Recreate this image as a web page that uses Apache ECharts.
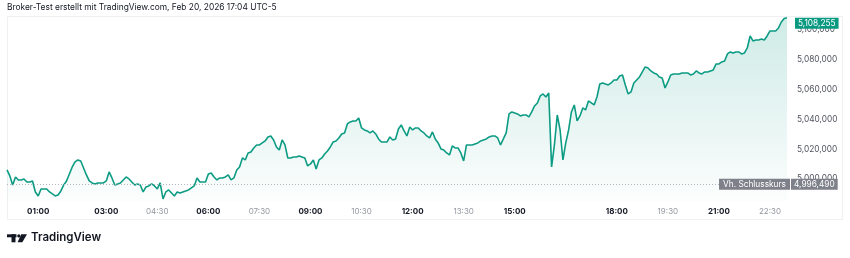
<!DOCTYPE html>
<html><head><meta charset="utf-8">
<script src="https://cdn.jsdelivr.net/npm/echarts@6/dist/echarts.min.js"></script>
<style>html,body{margin:0;padding:0;background:#fff;}#c{width:850px;height:258px;}</style>
</head><body><div id="c"></div>
<script>
const titleText = 'Broker-Test erstellt mit TradingView.com, Feb 20, 2026 17:04 UTC-5';
const brandText = 'TradingView';
const prevCloseLabel = 'Vh. Schlusskurs';
const startMinute = 5, stepMinutes = 5;
const prevClose = 4996490;
const prices = [
5006040,5002010,4995970,5001340,4999330,4999330,5000000,4997990,4997990,4998660,4991280,4988590,
4993290,4993290,4993290,4991280,4989930,4988590,4989260,4991950,4995970,4998660,5003360,5008050,
5011410,5012750,5012080,5007380,5002680,4998660,4997320,4996640,4997320,4997320,4997320,4998660,
5004700,5000670,4995970,4996640,4997320,4999330,5001340,5000000,4997990,4995970,4996640,4995970,
4991280,4994630,4995300,4996640,4995300,4993290,4997320,4986580,4991280,4992620,4990600,4988590,
4991280,4990600,4991280,4991950,4992620,4993960,4995300,5000670,4997990,4997990,4997990,5003360,
5004030,5001340,4999330,5000670,5000670,5001340,5002680,4999330,5000670,5006040,5008050,5014090,
5012750,5017450,5018120,5020800,5022820,5022820,5024160,5025500,5028190,5028860,5026170,5021480,
5019460,5026170,5022820,5014090,5014090,5014760,5014760,5015440,5014760,5014090,5008720,5010070,
5012750,5006710,5012750,5014090,5016780,5018790,5021480,5024830,5025500,5027520,5030200,5030870,
5036910,5038250,5038920,5038920,5040940,5034230,5032880,5032210,5030870,5032210,5030200,5026840,
5024830,5024830,5024830,5028190,5026170,5026840,5033560,5036240,5032210,5028860,5034900,5032880,
5034230,5034230,5032210,5030870,5028860,5027520,5031540,5026840,5024160,5020130,5019460,5017450,
5016110,5022150,5020800,5020800,5017450,5012080,5022820,5022820,5022820,5023490,5024160,5025500,
5026170,5026840,5028190,5028860,5028860,5027520,5022820,5026840,5030870,5043620,5044960,5044290,
5043620,5042280,5042950,5042950,5041610,5044960,5048990,5051000,5055700,5057040,5055030,5057710,
5008050,5022820,5042950,5032880,5012750,5024160,5032880,5044960,5049660,5038920,5042280,5047650,
5046310,5052350,5051000,5049660,5055030,5063750,5064430,5063750,5063080,5064430,5066440,5066440,
5069120,5069790,5063080,5057040,5058390,5064430,5066440,5068450,5071810,5075160,5074490,5072480,
5071140,5070470,5068450,5067780,5061070,5065100,5069790,5070470,5070470,5070470,5071140,5071140,
5071140,5069790,5070470,5072480,5071140,5070470,5071810,5071810,5072480,5073150,5077180,5077180,
5078520,5079190,5083890,5085230,5084560,5085230,5085230,5083890,5084560,5087910,5095970,5092610,
5093280,5093280,5093950,5093280,5095970,5099320,5099320,5099320,5101340,5105360,5107710,5108255
];
const xTickMinutes = [60,180,270,360,450,540,630,720,810,900,1080,1170,1260,1350];
const xTickLabels = ['01:00','03:00','04:30','06:00','07:30','09:00','10:30','12:00','13:30','15:00','18:00','19:30','21:00','22:30'];
const yTicks = [5000000,5020000,5040000,5060000,5080000,5100000];

const FONT = 'Inter';
const fmt = v => Math.round(v).toLocaleString('en-US');
const lastPrice = prices[prices.length - 1];
const seriesData = prices.map((v, i) => [startMinute + i * stepMinutes, v]);
const HIDDEN = {color: 'rgba(0,0,0,0)', width: 1};

const chart = echarts.init(document.getElementById('c'), null, {renderer: 'canvas'});
chart.setOption({
  animation: false,
  backgroundColor: '#ffffff',
  title: {
    text: titleText, left: 7, top: 3, padding: 0,
    textStyle: {fontSize: 8.4, fontWeight: 'normal', color: '#131722', fontFamily: FONT}
  },
  grid: {left: 7, right: 63, top: 17, bottom: 57, containLabel: false},
  xAxis: {
    type: 'value',
    min: startMinute,
    max: startMinute + (prices.length - 1) * stepMinutes,
    axisLine: {show: false}, axisTick: {show: false}, splitLine: {show: false},
    axisLabel: {
      customValues: xTickMinutes,
      margin: 7,
      formatter: v => {
        const lbl = xTickLabels[xTickMinutes.indexOf(v)];
        return lbl.endsWith(':00') ? '{b|' + lbl + '}' : '{n|' + lbl + '}';
      },
      rich: {
        b: {fontWeight: 'bold', color: '#131722', fontSize: 8, fontFamily: FONT},
        n: {color: '#9598a1', fontSize: 8, fontFamily: FONT}
      }
    }
  },
  yAxis: {
    type: 'value', position: 'right',
    min: 4985200, max: 5108700,
    axisLine: {show: false}, axisTick: {show: false}, splitLine: {show: false},
    axisLabel: {
      customValues: yTicks, margin: 10, color: '#50535e', fontSize: 8.3, fontFamily: FONT,
      formatter: v => fmt(v)
    }
  },
  series: [{
    type: 'line',
    data: seriesData,
    showSymbol: false,
    symbol: 'none',
    lineStyle: {color: '#0c9b83', width: 1.6},
    itemStyle: {color: '#0c9b83'},
    areaStyle: {
      color: new echarts.graphic.LinearGradient(0, 0, 0, 1, [
        {offset: 0, color: 'rgba(8,153,129,0.28)'},
        {offset: 1, color: 'rgba(8,153,129,0.02)'}
      ])
    },
    markLine: {
      silent: true, symbol: ['none', 'none'], animation: false,
      data: [
        {yAxis: prevClose,
         lineStyle: {color: '#b2b5be', type: [1, 2], width: 1},
         label: {position: 'end', distance: 4, formatter: () => fmt(prevClose),
                 backgroundColor: '#7e8189', color: '#ffffff', padding: [2, 3, 1, 3],
                 fontSize: 8.3, fontFamily: FONT}},
        {yAxis: prevClose,
         lineStyle: HIDDEN,
         label: {show: true, position: 'insideEnd', distance: -3, formatter: prevCloseLabel,
                 backgroundColor: '#7e8189', color: '#ffffff', padding: [2, 4, 1, 4],
                 fontSize: 8.3, fontFamily: FONT}},
        {yAxis: lastPrice,
         lineStyle: HIDDEN,
         label: {show: true, position: 'end', distance: 8, offset: [0, 5.5], formatter: () => fmt(lastPrice),
                 backgroundColor: '#089981', color: '#ffffff', padding: [2, 3, 1, 3],
                 fontSize: 8.3, fontFamily: FONT}}
      ]
    }
  }],
  graphic: [
    {type: 'rect', silent: true, z: -1,
     shape: {x: 7.5, y: 16.5, width: 835, height: 203},
     style: {fill: 'none', stroke: '#eef0f3', lineWidth: 1}},
    {type: 'rect', shape: {x: 7, y: 234.3, width: 9.5, height: 3}, style: {fill: '#131722'}},
    {type: 'rect', shape: {x: 11.5, y: 234.3, width: 4, height: 8}, style: {fill: '#131722'}},
    {type: 'circle', shape: {cx: 18.8, cy: 235.9, r: 1.6}, style: {fill: '#131722'}},
    {type: 'polygon', shape: {points: [[21.2, 234.3], [27, 234.3], [22.3, 242.3], [17.6, 242.3]]}, style: {fill: '#131722'}},
    {type: 'text', left: 31, top: 232,
     style: {text: brandText, fontSize: 11.5, fontWeight: 600, fill: '#131722', fontFamily: FONT}}
  ]
});
</script></body></html>
